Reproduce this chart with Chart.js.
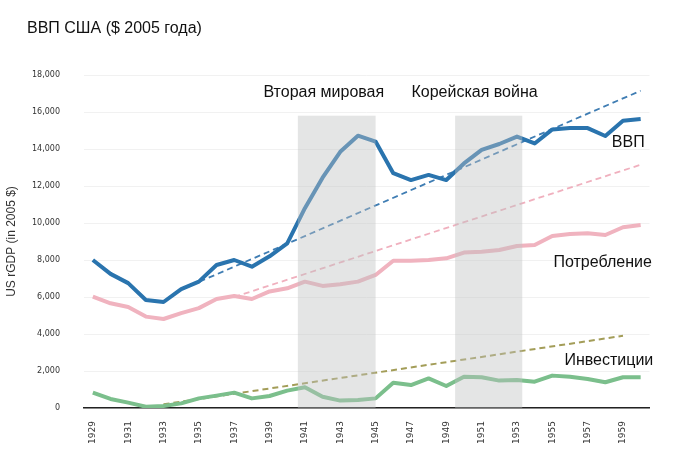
<!DOCTYPE html>
<html>
<head>
<meta charset="utf-8">
<script src="https://cdn.jsdelivr.net/npm/chart.js@4.4.1/dist/chart.umd.min.js"></script>
<style>
  html, body { margin: 0; padding: 0; background: #fff; }
</style>
</head>
<body>
<canvas id="myChart" width="699" height="454"></canvas>
<script>
const years = [
  "1929", "1930", "1931", "1932", "1933", "1934", "1935", "1936",
  "1937", "1938", "1939", "1940", "1941", "1942", "1943", "1944",
  "1945", "1946", "1947", "1948", "1949", "1950", "1951", "1952",
  "1953", "1954", "1955", "1956", "1957", "1958", "1959", "1960",
]

// real GDP, billions of 2005 $
const gdp = [
  8000, 7250, 6750, 5840, 5730, 6430, 6830, 7730,
  8000, 7640, 8200, 8900, 10800, 12450, 13850, 14720,
  14400, 12690, 12320, 12600, 12320, 13220, 13950, 14270,
  14670, 14300, 15060, 15130, 15130, 14700, 15530, 15620,
]
const consumption = [
  6020, 5660, 5460, 4940, 4810, 5130, 5400, 5890,
  6050, 5890, 6300, 6470, 6830, 6600, 6690, 6830,
  7190, 7960, 7960, 8000, 8090, 8400, 8450, 8540,
  8760, 8810, 9300, 9400, 9440, 9350, 9770, 9890,
]
const investment = [
  830, 490, 290, 70, 110, 250, 520, 670,
  830, 520, 650, 940, 1120, 610, 400, 430,
  520, 1370, 1240, 1600, 1190, 1690, 1660, 1480,
  1510, 1420, 1750, 1690, 1570, 1390, 1660, 1660,
]

// trend lines: start and end only
const gdpTrend = [{ x: "1934", y: 6400 }, { x: "1960", y: 17150 }]
const consumptionTrend = [{ x: "1937", y: 6000 }, { x: "1960", y: 13150 }]
const investmentTrend = [{ x: "1933", y: 200 }, { x: "1959", y: 3900 }]

const yTicks = [0, 2000, 4000, 6000, 8000, 10000, 12000, 14000, 16000, 18000]

const wars = [
  { name: "Вторая мировая", from: 1940.6, to: 1945.0 },
  { name: "Корейская война", from: 1949.5, to: 1953.3 },
]
const warTop = 15800

const FONT = "'Liberation Sans', Arial, sans-serif"

const overlay = {
  id: "overlay",
  afterDatasetsDraw(chart) {
    const { ctx, scales: { x, y } } = chart
    const first = Number(years[0])
    ctx.save()
    ctx.fillStyle = "rgba(190, 192, 192, 0.42)"
    wars.forEach((w) => {
      const x0 = x.getPixelForValue(w.from - first)
      const x1 = x.getPixelForValue(w.to - first)
      const y0 = y.getPixelForValue(warTop)
      const y1 = y.getPixelForValue(0)
      ctx.fillRect(x0, y0, x1 - x0, y1 - y0)
    })
    ctx.restore()
  },
  afterDraw(chart) {
    const { ctx, scales: { x, y } } = chart
    const first = Number(years[0])
    ctx.save()
    ctx.fillStyle = "#111"
    ctx.textAlign = "left"
    ctx.textBaseline = "alphabetic"
    ctx.font = "16px " + FONT
    ctx.fillText("ВВП США ($ 2005 года)", 27, 33)

    const labels = [
      { text: wars[0].name, year: 1942.07, value: 16830 },
      { text: wars[1].name, year: 1950.6, value: 16810 },
      { text: "ВВП", year: 1959.3, value: 14090 },
      { text: "Потребление", year: 1957.85, value: 7640 },
      { text: "Инвестиции", year: 1958.2, value: 2320 },
    ]
    ctx.textAlign = "center"
    labels.forEach((l) => {
      ctx.fillText(l.text, x.getPixelForValue(l.year - first), y.getPixelForValue(l.value))
    })
    ctx.restore()
  },
}

const ctx = document.querySelector("#myChart")

new Chart(ctx, {
  type: "line",
  data: {
    labels: years,
    datasets: [
      {
        label: "ВВП",
        data: gdp,
        borderColor: "#2a74ae",
        borderWidth: 4,
      },
      {
        label: "Потребление",
        data: consumption,
        borderColor: "#f0b3bf",
        borderWidth: 4,
      },
      {
        label: "Инвестиции",
        data: investment,
        borderColor: "#7bbf8c",
        borderWidth: 4,
      },
      {
        label: "ВВП тренд",
        data: gdpTrend,
        borderColor: "#3f7db3",
        borderWidth: 1.8,
        borderDash: [6, 4],
      },
      {
        label: "Потребление тренд",
        data: consumptionTrend,
        borderColor: "#f0b0be",
        borderWidth: 1.8,
        borderDash: [6, 4],
      },
      {
        label: "Инвестиции тренд",
        data: investmentTrend,
        borderColor: "#a39d58",
        borderWidth: 2,
        borderDash: [6, 4],
      },
    ],
  },
  options: {
    responsive: false,
    animation: false,
    layout: { padding: { top: 75, right: 49.5, left: 0, bottom: 0 } },
    elements: {
      point: { radius: 0 },
      line: { tension: 0, borderCapStyle: "butt", borderJoinStyle: "round" },
    },
    plugins: {
      legend: { display: false },
      tooltip: { enabled: false },
    },
    scales: {
      x: {
        offset: true,
        grid: { display: false, drawTicks: false },
        border: { display: true, color: "#222", width: 1.5 },
        ticks: {
          autoSkip: false,
          minRotation: 90,
          maxRotation: 90,
          padding: 13,
          color: "#333",
          font: { family: "'DejaVu Sans'", size: 9 },
          callback: function (val, i) {
            return i % 2 === 0 ? this.getLabelForValue(val) : ""
          },
        },
        afterFit(scale) {
          scale.height = 46
        },
      },
      y: {
        min: 0,
        max: 18000,
        afterBuildTicks(scale) {
          scale.ticks = yTicks.map((v) => ({ value: v }))
        },
        grid: { color: "#f1f1f1", drawTicks: false },
        border: { display: false },
        ticks: {
          padding: 24,
          color: "#333",
          font: { family: "'DejaVu Sans'", size: 8 },
          callback: (v) => v.toLocaleString("en-US"),
        },
        title: {
          display: true,
          text: "US rGDP (in 2005 $)",
          color: "#333",
          font: { family: FONT, size: 12 },
          padding: { top: 4, bottom: 0 },
        },
        afterFit(scale) {
          scale.width = 84
        },
      },
    },
  },
  plugins: [overlay],
})
</script>
</body>
</html>
